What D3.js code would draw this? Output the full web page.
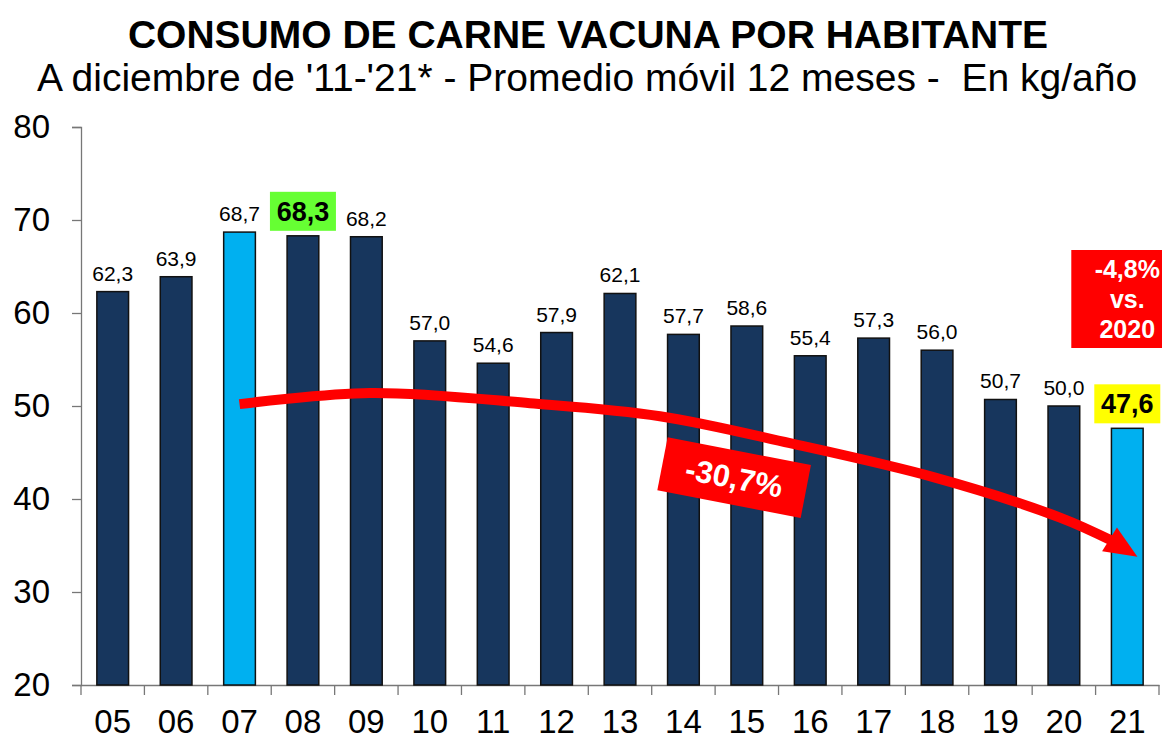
<!DOCTYPE html>
<html>
<head>
<meta charset="utf-8">
<script src="https://cdn.jsdelivr.net/npm/d3@7"></script>
<style>
  html, body { margin: 0; padding: 0; background: #fff; }
  svg { display: block; font-family: "Liberation Sans", Arial, sans-serif; }
</style>
</head>
<body>
<svg id="chart" width="1162" height="740"></svg>
<script>
// ---- Data ----
const categories = ["05","06","07","08","09","10","11","12","13","14","15","16","17","18","19","20","21"];
const values = [62.3, 63.9, 68.7, 68.3, 68.2, 57.0, 54.6, 57.9, 62.1, 57.7, 58.6, 55.4, 57.3, 56.0, 50.7, 50.0, 47.6];
const valueLabels = ["62,3","63,9","68,7","68,3","68,2","57,0","54,6","57,9","62,1","57,7","58,6","55,4","57,3","56,0","50,7","50,0","47,6"];
const highlightBars = ["07", "21"];
const boxedLabels = [{cat: "08", fill: "#66ff33"}, {cat: "21", fill: "#ffff00"}];
const yTicks = [20, 30, 40, 50, 60, 70, 80];
const titleText = "CONSUMO DE CARNE VACUNA POR HABITANTE";
const subtitleText = "A diciembre de '11-'21* - Promedio móvil 12 meses -  En kg/año";
// trend arrow path in data space: [category index, value]
const arrowPath = [[2.0, 50.2], [4.06, 51.4], [6.58, 50.3], [8.63, 48.9], [10.68, 46.0], [12.97, 42.3], [14.94, 38.0], [15.76, 35.5]];
const arrowTip = [16.16, 33.8];
const trendLabel = "-30,7%";
const trendLabelPos = [9.8, 42.3];
const changeLines = ["-4,8%", "vs.", "2020"];

// ---- Layout ----
const W = 1162, H = 740;
const margin = {top: 127, right: 3, bottom: 55, left: 81};
const svg = d3.select("#chart");

const x = d3.scaleBand().domain(categories).range([margin.left, W - margin.right]).paddingInner(0.5).paddingOuter(0.25);
const y = d3.scaleLinear().domain([20, 80]).range([H - margin.bottom, margin.top]);
const step = x.step();
const xi = d3.scaleLinear().domain([0, categories.length - 1])
  .range([x(categories[0]) + x.bandwidth() / 2, x(categories[categories.length - 1]) + x.bandwidth() / 2]);

// Title
svg.append("text").attr("x", 588).attr("y", 48).attr("text-anchor", "middle")
  .attr("font-size", 39).attr("font-weight", "bold").attr("fill", "#000").text(titleText);
svg.append("text").attr("x", 587).attr("y", 91).attr("text-anchor", "middle")
  .style("white-space", "pre")
  .attr("font-size", 39).attr("fill", "#000").text(subtitleText);

// Y axis
const yAxis = d3.axisLeft(y).tickValues(yTicks).tickSize(9).tickPadding(22).tickFormat(d3.format("d"));
const gy = svg.append("g").attr("transform", `translate(${margin.left},0)`).call(yAxis);
gy.select(".domain").attr("stroke", "#777").attr("stroke-width", 1.3);
gy.selectAll(".tick line").attr("stroke", "#777").attr("stroke-width", 1.3);
gy.selectAll(".tick text").attr("font-size", 33).attr("fill", "#000")
  .attr("font-family", "\"Liberation Sans\", Arial, sans-serif");

// X axis
const xAxis = d3.axisBottom(x).tickSize(0).tickPadding(25);
const gx = svg.append("g").attr("transform", `translate(0,${y(20)})`).call(xAxis);
gx.select(".domain").attr("stroke", "#777").attr("stroke-width", 1.3);
gx.selectAll(".tick text").attr("font-size", 33).attr("fill", "#000")
  .attr("font-family", "\"Liberation Sans\", Arial, sans-serif");
// boundary ticks
const boundaries = d3.range(categories.length + 1).map(i => margin.left + i * step);
gx.selectAll(".bt").data(boundaries).join("line").attr("class", "bt")
  .attr("x1", d => d).attr("x2", d => d).attr("y1", 0).attr("y2", 10)
  .attr("stroke", "#777").attr("stroke-width", 1.3);

// Bars
const data = categories.map((c, i) => ({cat: c, v: values[i], label: valueLabels[i]}));
svg.append("g").selectAll("rect").data(data).join("rect")
  .attr("x", d => x(d.cat)).attr("width", x.bandwidth())
  .attr("y", d => y(d.v)).attr("height", d => y(20) - y(d.v))
  .attr("fill", d => highlightBars.includes(d.cat) ? "#00b0f0" : "#17365d")
  .attr("stroke", "#111").attr("stroke-width", 1.5);

// Value labels
const boxedCats = boxedLabels.map(b => b.cat);
svg.append("g").selectAll("text").data(data.filter(d => !boxedCats.includes(d.cat))).join("text")
  .attr("x", d => x(d.cat) + x.bandwidth() / 2).attr("y", d => y(d.v) - 11)
  .attr("text-anchor", "middle").attr("font-size", 21).attr("fill", "#000").text(d => d.label);

boxedLabels.forEach(b => {
  const d = data.find(e => e.cat === b.cat);
  const cx = x(d.cat) + x.bandwidth() / 2;
  const bottom = y(d.v) - 5;
  svg.append("rect").attr("x", cx - 33).attr("y", bottom - 39).attr("width", 66).attr("height", 39).attr("fill", b.fill);
  svg.append("text").attr("x", cx).attr("y", bottom - 10).attr("text-anchor", "middle")
    .attr("font-size", 27).attr("font-weight", "bold").attr("fill", "#000").text(d.label);
});

// Trend arrow
const line = d3.line().x(d => xi(d[0])).y(d => y(d[1])).curve(d3.curveCatmullRom.alpha(0.5));
svg.append("path").attr("d", line(arrowPath)).attr("fill", "none")
  .attr("stroke", "#ff0000").attr("stroke-width", 10);
{
  const base = arrowPath[arrowPath.length - 1];
  const bx = xi(base[0]), by = y(base[1]);
  const tx = xi(arrowTip[0]), ty = y(arrowTip[1]);
  const dx = tx - bx, dy = ty - by, len = Math.hypot(dx, dy);
  const nx = -dy / len, ny = dx / len, hw = 14;
  const back = 3;
  const b0x = bx - dx / len * back, b0y = by - dy / len * back;
  svg.append("polygon")
    .attr("points", [[tx, ty], [b0x + nx * hw, b0y + ny * hw], [b0x - nx * hw, b0y - ny * hw]].map(p => p.join(",")).join(" "))
    .attr("fill", "#ff0000");
}

// Trend label box
{
  const cx = xi(trendLabelPos[0]), cy = y(trendLabelPos[1]);
  const g = svg.append("g").attr("transform", `translate(${cx},${cy}) rotate(11)`);
  g.append("rect").attr("x", -73).attr("y", -27).attr("width", 146).attr("height", 54).attr("fill", "#ff0000");
  g.append("text").attr("x", 0).attr("y", 11).attr("text-anchor", "middle")
    .attr("font-size", 31).attr("font-weight", "bold").attr("fill", "#fff").text(trendLabel);
}

// Change vs 2020 box
{
  const cx = x("21") + x.bandwidth() / 2;
  svg.append("rect").attr("x", cx - 56).attr("y", 250).attr("width", 112).attr("height", 98).attr("fill", "#ff0000");
  svg.append("g").selectAll("text").data(changeLines).join("text")
    .attr("x", cx).attr("y", (d, i) => 278 + i * 30).attr("text-anchor", "middle")
    .attr("font-size", 25).attr("font-weight", "bold").attr("fill", "#fff").text(d => d);
}
</script>
</body>
</html>
